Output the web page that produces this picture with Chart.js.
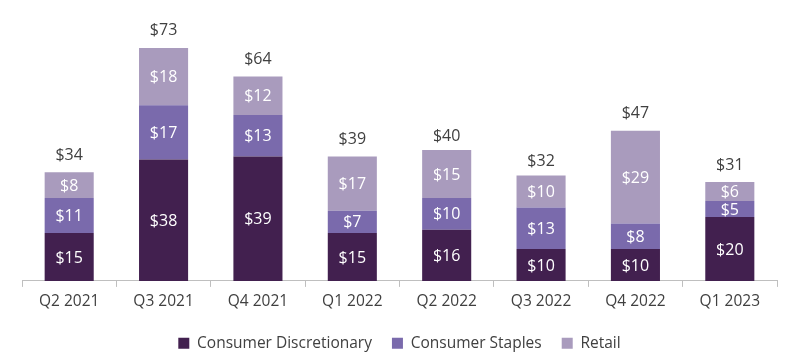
<!DOCTYPE html>
<html><head><meta charset="utf-8">
<script src="https://cdn.jsdelivr.net/npm/chart.js@4"></script>
<style>html,body{margin:0;padding:0;background:#fff}#wrap{width:800px;height:363px}</style>
</head><body><div id="wrap"><canvas id="c" width="800" height="363"></canvas></div>
<script>
const categories = ["Q2 2021","Q3 2021","Q4 2021","Q1 2022","Q2 2022","Q3 2022","Q4 2022","Q1 2023"];
const discretionary = [15,38,39,15,16,10,10,20];
const staples = [11,17,13,7,10,13,8,5];
const retail = [8,18,12,17,15,10,29,6];
const totals = [34,73,64,39,40,32,47,31];

const FONT = "'Open Sans', 'Noto Sans', sans-serif";
const txt = '#404040';

const labelPlugin = {
  id: 'labels',
  afterDatasetsDraw(chart) {
    const ctx = chart.ctx;
    ctx.save();
    ctx.textAlign = 'center';
    ctx.textBaseline = 'middle';
    ctx.font = '16px ' + FONT;
    chart.data.datasets.forEach((ds, i) => {
      const meta = chart.getDatasetMeta(i);
      meta.data.forEach((bar, j) => {
        const y = (bar.y + bar.base) / 2;
        ctx.fillStyle = '#ffffff';
        ctx.fillText('$' + ds.data[j], bar.x, y + 1);
      });
    });
    const last = chart.getDatasetMeta(chart.data.datasets.length - 1);
    const ys = chart.scales.y;
    ctx.fillStyle = txt;
    last.data.forEach((bar, j) => {
      ctx.fillText('$' + totals[j], bar.x, ys.getPixelForValue(totals[j]) - 17);
    });
    ctx.restore();
  }
};

new Chart(document.getElementById('c'), {
  type: 'bar',
  data: {
    labels: categories,
    datasets: [
      {label: 'Consumer Discretionary', data: discretionary, backgroundColor: '#42204f'},
      {label: 'Consumer Staples', data: staples, backgroundColor: '#7a6aac'},
      {label: 'Retail', data: retail, backgroundColor: '#a99bbd'}
    ]
  },
  options: {
    responsive: false,
    animation: false,
    devicePixelRatio: 1,
    layout: {padding: {left: 22, right: 23, top: 0, bottom: 2}},
    datasets: {bar: {categoryPercentage: 1, barPercentage: 0.52}},
    scales: {
      x: {
        stacked: true,
        grid: {display: true, drawOnChartArea: false, offset: true, tickLength: 6, color: '#bfbfbf'},
        border: {color: '#bfbfbf'},
        ticks: {color: txt, font: {family: FONT, size: 15.5}, padding: 5}
      },
      y: {stacked: true, display: false, min: 0, max: 88}
    },
    plugins: {
      legend: {
        position: 'bottom',
        labels: {color: txt, font: {family: FONT, size: 15.5}, boxWidth: 11, boxHeight: 11, padding: 20}
      },
      tooltip: {enabled: false}
    }
  },
  plugins: [labelPlugin]
});
</script></body></html>
